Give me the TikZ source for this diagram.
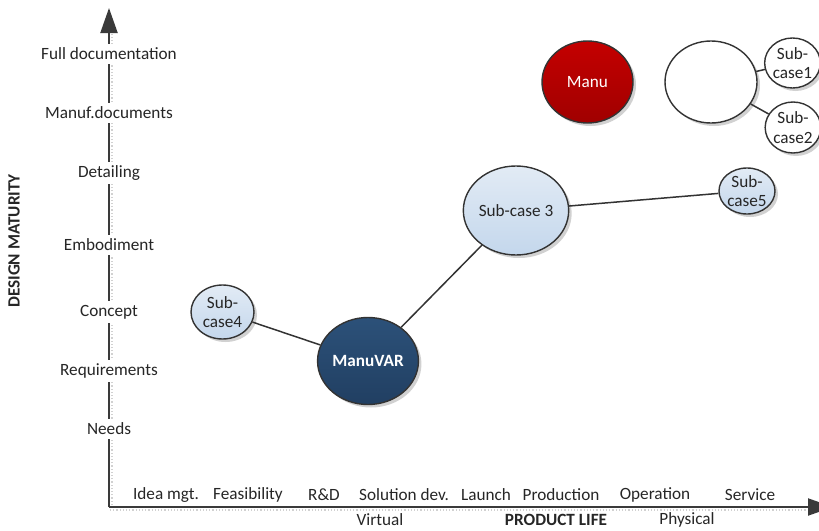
\documentclass[tikz,border=0pt]{standalone}
\usepackage{fontspec}
\setmainfont{Carlito}
\usetikzlibrary{arrows.meta,shapes.geometric,shadows}
\definecolor{axiscol}{HTML}{3A3A3A}
\definecolor{bordercol}{HTML}{333333}
\definecolor{lbtop}{HTML}{E2EBF5}
\definecolor{lbbot}{HTML}{C4D7EC}
\definecolor{redtop}{HTML}{C40000}
\definecolor{redbot}{HTML}{A00000}
\definecolor{navytop}{HTML}{2C5179}
\definecolor{navybot}{HTML}{213F62}
\tikzset{
  txt/.style={font=\fontsize{17.2}{20}\selectfont, text=black!85, inner sep=0pt},
  ylab/.style={txt, fill=white, inner xsep=2pt, inner ysep=4pt},
  xlab/.style={txt},
  bub/.style={ellipse, draw=bordercol, line width=1.4pt, inner sep=0pt, align=center,
    font=\fontsize{17.2}{19.5}\selectfont,
    drop shadow={shadow xshift=3pt, shadow yshift=-3pt, opacity=0.18, fill=black}},
  lightbub/.style={bub, top color=lbtop, bottom color=lbbot, text=black!85},
  conn/.style={draw=bordercol, line width=1.5pt},
  axis/.style={draw=axiscol, line width=2pt, -{Triangle[length=25pt,width=17pt]}},
  axshadow/.style={draw=black!18, line width=1.2pt, dotted}
}
\begin{document}
\begin{tikzpicture}[x=1pt,y=-1pt]
\useasboundingbox (0,0) rectangle (819,530);
% axis shadows
\draw[axshadow] (112,505) -- (112,34);
\draw[axshadow] (110,510) -- (808,510);
% axes
\coordinate (o) at (109,507);
\coordinate (ytop) at (109,8);
\coordinate (xend) at (833,507);
\draw[axis] (o) -- (ytop);
\draw[axis] (o) -- (xend);
% y labels
\node[ylab] (l1) at (109,54) {Full documentation};
\node[ylab] (l2) at (109,113) {Manuf.documents};
\node[ylab] (l3) at (109,173) {Detailing};
\node[ylab] (l4) at (109,245) {Embodiment};
\node[ylab] (l5) at (109,312) {Concept};
\node[ylab] (l6) at (109,371) {Requirements};
\node[ylab] (l7) at (109,429) {Needs};
\node[txt, font=\fontsize{17.2}{20}\selectfont\bfseries, rotate=90] (ytitle) at (14,241) {DESIGN MATURITY};
% x labels
\node[xlab] (x1) at (166,495) {Idea mgt.};
\node[xlab] (x2) at (248,495) {Feasibility};
\node[xlab] (x3) at (324,495) {R\&D};
\node[xlab] (x4) at (404,495) {Solution dev.};
\node[xlab] (x5) at (486,495) {Launch};
\node[xlab] (x6) at (561,495) {Production};
\node[xlab] (x7) at (655,495) {Operation};
\node[xlab] (x8) at (750,495) {Service};
\node[xlab] (v) at (380,520) {Virtual};
\node[txt, font=\fontsize{17.2}{20}\selectfont\bfseries] (pl) at (556,520) {PRODUCT LIFE};
\node[xlab] (ph) at (687,520) {Physical};
% bubbles
\node[lightbub, minimum width=63pt, minimum height=54pt] (sc4) at (222.5,312) {Sub-\\case4};
\node[bub, top color=navytop, bottom color=navybot, text=white, font=\fontsize{17.2}{20}\selectfont\bfseries,
      minimum width=90pt, minimum height=87pt] (mv) at (368,361) {ManuVAR};
\node[lightbub, minimum width=98pt, minimum height=89pt] (sc3) at (516,210.5) {Sub-case 3};
\node[lightbub, minimum width=56pt, minimum height=46pt] (sc5) at (747,191) {Sub-\\case5};
\node[bub, top color=redtop, bottom color=redbot, text=white, minimum width=91pt, minimum height=82pt] (manu) at (587.5,82) {Manu};
\node[bub, fill=white, minimum width=92pt, minimum height=82pt] (blank) at (711,82) {};
\node[bub, fill=white, text=black!85, minimum width=49pt, minimum height=50pt] (sc1) at (792.5,63) {Sub-\\case1};
\node[bub, fill=white, text=black!85, minimum width=50pt, minimum height=51pt] (sc2) at (793,127.5) {Sub-\\case2};
% connectors
\draw[conn] (sc4) -- (mv);
\draw[conn] (mv) -- (sc3);
\draw[conn] (sc3) -- (sc5);
\draw[conn] (blank) -- (sc1);
\draw[conn] (blank) -- (sc2);
\end{tikzpicture}
\end{document}
